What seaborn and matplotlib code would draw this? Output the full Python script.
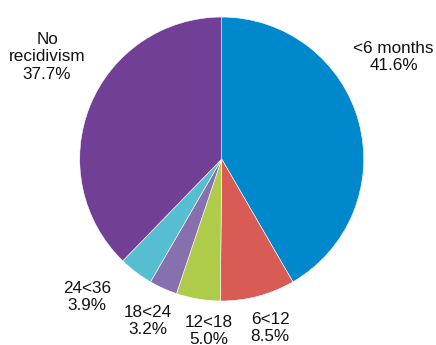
import matplotlib
matplotlib.use("Agg")
import matplotlib.pyplot as plt
import seaborn as sns

# === Data ===
categories = ["<6 months", "6<12", "12<18", "18<24", "24<36", "No\nrecidivism"]
shares = [41.6, 8.5, 5.0, 3.2, 3.9, 37.7]
colors = ["#0088CC", "#D95B55", "#AECC4A", "#8671AE", "#57BDD0", "#713F96"]

# label anchor points (data units, pie radius = 1)
label_pos = [(1.21, 0.72), (0.34, -1.19), (-0.09, -1.21),
             (-0.52, -1.14), (-0.95, -0.97), (-1.23, 0.72)]

sns.set_theme(style="white")
plt.rcParams["font.family"] = ["Liberation Sans", "DejaVu Sans"]

fig = plt.figure(figsize=(4.36, 3.45), dpi=100)
ax = fig.add_axes([0, 0, 1, 1])

ax.pie(
    shares,
    colors=colors,
    startangle=90,
    counterclock=False,
    radius=1.0,
    wedgeprops={"edgecolor": "white", "linewidth": 0.4},
)

for cat, val, (x, y) in zip(categories, shares, label_pos):
    ax.text(x, y, f"{cat}\n{val:.1f}%", ha="center", va="center",
            fontsize=12.3, color="#111111", linespacing=1.2)

ax.set_xlim(-1.561, 1.509)
ax.set_ylim(-1.310, 1.120)
ax.set_aspect("auto")
ax.axis("off")

fig.savefig("out.png", dpi=100)
